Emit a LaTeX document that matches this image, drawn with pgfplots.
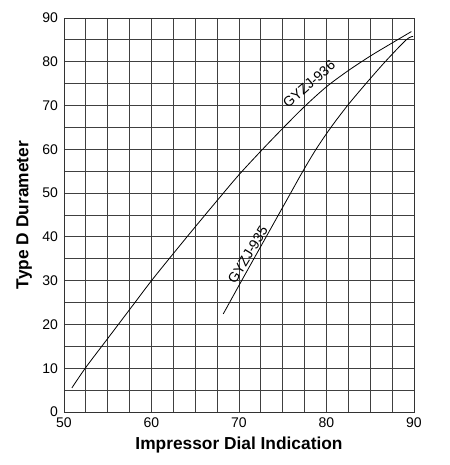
\documentclass[border=0pt]{standalone}
\usepackage{fontspec}
\setmainfont{Liberation Sans}
\usepackage{pgfplots}
\pgfplotsset{compat=1.18}

\begin{document}
\begin{tikzpicture}[x=0.75pt,y=0.75pt]
% fixed page frame around the axis box (350 x 394 units)
\useasboundingbox (-64,-53) rectangle (386,412);
\begin{axis}[
  at={(0,0)}, anchor=south west,
  scale only axis,
  width=262.5pt, height=295.5pt,
  xmin=50, xmax=90, ymin=0, ymax=90,
  xtick={50,60,...,90}, ytick={0,10,...,90},
  minor xtick={52.5,55,57.5,62.5,65,67.5,72.5,75,77.5,82.5,85,87.5},
  minor ytick={5,15,...,85},
  grid=both,
  major grid style={black!75, line width=0.6pt},
  minor grid style={black!75, line width=0.6pt},
  axis line style={black!80, line width=0.7pt},
  tick style={draw=none},
  /pgf/number format/assume math mode=true,
  tick label style={font=\fontsize{10.5}{12}\selectfont},
  xticklabel style={yshift=-1pt},
  yticklabel style={xshift=-1pt},
  xlabel={\textbf{Impressor Dial Indication}},
  ylabel={\textbf{Type D Durameter}},
  label style={font=\fontsize{13}{15}\selectfont},
  xlabel style={at={(axis description cs:0.5,-0.084)}, anchor=center},
  ylabel style={at={(axis description cs:-0.114,0.5)}, anchor=center, rotate=0},
]
% GYZJ-936
\addplot[black, line width=0.6pt, smooth, tension=0.5] coordinates {
  (50.9,5.5) (52.5,10.2) (55,16.8) (57.5,23.4) (60,30) (62.5,36.2) (65,42.3)
  (67.5,48.3) (70,54.2) (72.5,59.6) (75,64.8) (77.5,69.8) (80,74.3)
  (82.5,78.0) (85,81.3) (87.5,84.3) (89.7,86.9)
};
% GYZJ-935
\addplot[black, line width=0.6pt, smooth, tension=0.5] coordinates {
  (68.2,22.4) (70.3,30) (73.1,40) (75.9,50) (77.3,55) (78.8,60) (80.5,65)
  (82.4,70) (84.5,75) (86.7,80) (89.1,85) (89.9,85.8)
};
\node[rotate=41, anchor=center, font=\fontsize{10.5}{12}\selectfont, inner sep=0pt]
  at (axis cs:78.0,74.9) {GYZJ-936};
\node[rotate=59, anchor=center, font=\fontsize{10.5}{12}\selectfont, inner sep=0pt]
  at (axis cs:71.0,35.9) {GYZJ-935};
\end{axis}
\end{tikzpicture}
\end{document}
